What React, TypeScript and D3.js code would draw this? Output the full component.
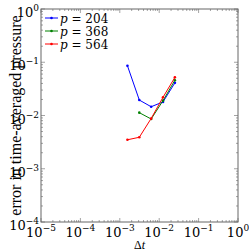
import * as d3 from 'd3';
import { useEffect, useRef } from 'react';

const dt = [0.0015625, 0.003125, 0.00625, 0.0125, 0.025];
const err204 = [0.086, 0.0195, 0.0146, 0.018, 0.041];
const err368 = [null, 0.0113, 0.0086, 0.019, 0.046];
const err564 = [0.0035, 0.0039, 0.0088, 0.022, 0.052];
const seriesNames = ['p = 204', 'p = 368', 'p = 564'];
const seriesColors = ['#0000ff', '#008000', '#ff0000'];
const xTickExps = [-5, -4, -3, -2, -1, 0];
const yTickExps = [-4, -3, -2, -1, 0];

const App = () => {
  const ref = useRef<SVGSVGElement>(null);

  useEffect(() => {
    const svg = d3.select(ref.current);
    svg.selectAll('*').remove();
    const margin = { top: 9, right: 11, bottom: 29, left: 41 };
    const width = 249 - margin.left - margin.right;
    const height = 251 - margin.top - margin.bottom;
    const font = 'DejaVu Serif, serif';
    const labelFont = 'Liberation Serif, serif';
    const axisColor = '#666';

    const x = d3.scaleLog().domain([1e-5, 1]).range([0, width]);
    const y = d3.scaleLog().domain([1e-4, 1]).range([height, 0]);

    const g = svg
      .append('g')
      .attr('transform', 'translate(' + margin.left + ',' + margin.top + ')');

    // minor + major ticks, inward, all four sides
    const minors: number[] = [];
    for (let e = -5; e < 0; e++) for (let k = 2; k < 10; k++) minors.push(k * Math.pow(10, e));
    const yMinors = minors.filter((v) => v >= 1e-4);

    const ticks = g.append('g').attr('stroke', axisColor).attr('stroke-width', 0.6);
    minors.forEach((v) => {
      ticks.append('line').attr('x1', x(v)).attr('x2', x(v)).attr('y1', height).attr('y2', height - 2);
      ticks.append('line').attr('x1', x(v)).attr('x2', x(v)).attr('y1', 0).attr('y2', 2);
    });
    yMinors.forEach((v) => {
      ticks.append('line').attr('y1', y(v)).attr('y2', y(v)).attr('x1', 0).attr('x2', 2);
      ticks.append('line').attr('y1', y(v)).attr('y2', y(v)).attr('x1', width).attr('x2', width - 2);
    });
    xTickExps.forEach((e) => {
      const v = Math.pow(10, e);
      ticks.append('line').attr('x1', x(v)).attr('x2', x(v)).attr('y1', height).attr('y2', height - 4);
      ticks.append('line').attr('x1', x(v)).attr('x2', x(v)).attr('y1', 0).attr('y2', 4);
    });
    yTickExps.forEach((e) => {
      const v = Math.pow(10, e);
      ticks.append('line').attr('y1', y(v)).attr('y2', y(v)).attr('x1', 0).attr('x2', 4);
      ticks.append('line').attr('y1', y(v)).attr('y2', y(v)).attr('x1', width).attr('x2', width - 4);
    });

    g.append('rect')
      .attr('width', width)
      .attr('height', height)
      .attr('fill', 'none')
      .attr('stroke', axisColor)
      .attr('stroke-width', 1);

    // tick labels
    xTickExps.forEach((e) => {
      const t = g
        .append('text')
        .attr('x', x(Math.pow(10, e)))
        .attr('y', height + 15)
        .attr('font-family', font)
        .attr('font-size', 13)
        .attr('text-anchor', 'middle');
      t.append('tspan').text('10');
      t.append('tspan').attr('dy', -6).attr('font-size', 9).text(e === 0 ? '0' : '\u2212' + -e);
    });
    yTickExps.forEach((e) => {
      const t = g
        .append('text')
        .attr('x', -2)
        .attr('y', y(Math.pow(10, e)) + 8)
        .attr('font-family', font)
        .attr('font-size', 13)
        .attr('text-anchor', 'end');
      t.append('tspan').text('10');
      t.append('tspan').attr('dy', -6).attr('font-size', 9).text(e === 0 ? '0' : '\u2212' + -e);
    });

    // axis labels
    g.append('text')
      .attr('x', width / 2)
      .attr('y', height + 27)
      .attr('font-family', labelFont)
      .attr('font-size', 12)
      .attr('text-anchor', 'middle')
      .html('\u0394<tspan font-style="italic">t</tspan>');

    g.append('text')
      .attr('transform', 'translate(' + (-20) + ',' + height / 2 + ') rotate(-90)')
      .attr('font-family', labelFont)
      .attr('font-size', 16)
      .attr('text-anchor', 'middle')
      .text('error in time-averaged pressure');

    // series
    const all = [err204, err368, err564];
    const line = d3
      .line<[number, number | null]>()
      .defined((d) => d[1] != null)
      .x((d) => x(d[0]))
      .y((d) => y(d[1] as number));

    all.forEach((vals, i) => {
      const pts: [number, number | null][] = dt.map((d, j) => [d, vals[j]]);
      g.append('path')
        .attr('d', line(pts))
        .attr('fill', 'none')
        .attr('stroke', seriesColors[i])
        .attr('stroke-width', 1);
      g.selectAll(null)
        .data(pts.filter((p) => p[1] != null))
        .enter()
        .append('circle')
        .attr('cx', (d) => x(d[0]))
        .attr('cy', (d) => y(d[1] as number))
        .attr('r', 1.3)
        .attr('fill', seriesColors[i]);
    });

    // legend
    const legend = g
      .append('g')
      .selectAll('g')
      .data(seriesNames)
      .enter()
      .append('g')
      .attr('transform', (d, i) => 'translate(4,' + (9 + i * 13) + ')');
    legend
      .append('line')
      .attr('x1', 0)
      .attr('x2', 13)
      .attr('stroke', (d, i) => seriesColors[i])
      .attr('stroke-width', 1);
    legend
      .append('circle')
      .attr('cx', 6.5)
      .attr('r', 1.3)
      .attr('fill', (d, i) => seriesColors[i]);
    legend
      .append('text')
      .attr('x', 15)
      .attr('y', 4.5)
      .attr('font-family', font)
      .attr('font-size', 12)
      .html((d) => '<tspan font-style="italic">p</tspan>' + d.slice(1));
  }, []);

  return (
    <svg
      ref={ref}
      width={249}
      height={251}
      style={{ position: 'absolute', left: 0, top: 0, background: '#fff' }}
    ></svg>
  );
};

export default App;
